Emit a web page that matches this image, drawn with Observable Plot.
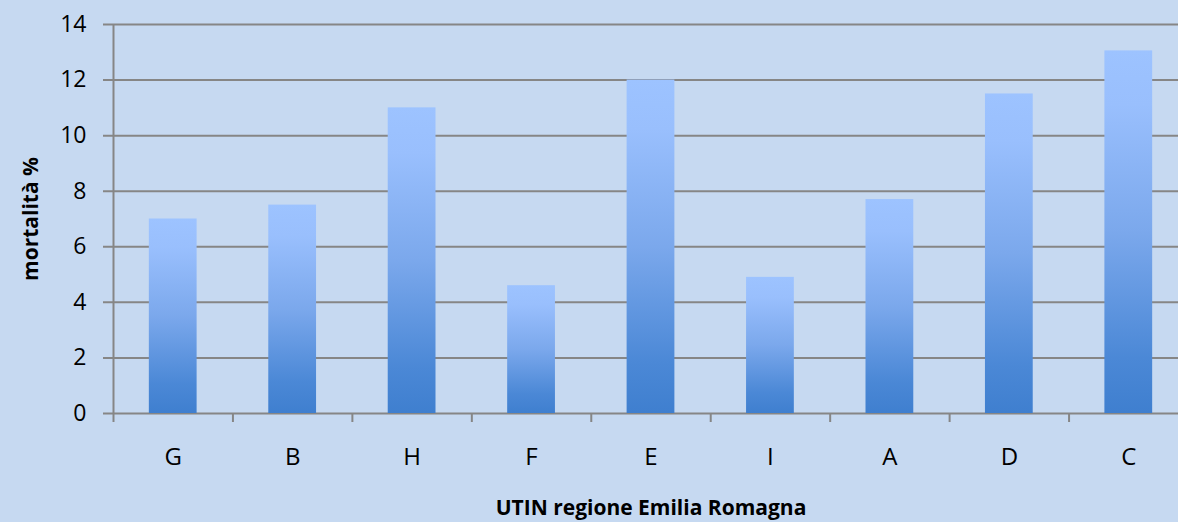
<!DOCTYPE html>
<html><head><meta charset="utf-8">
<script src="https://cdn.jsdelivr.net/npm/d3@7"></script>
<script src="https://cdn.jsdelivr.net/npm/@observablehq/plot@0.6"></script>
<style>html,body{margin:0;padding:0;background:#c6d9f1;overflow:hidden;width:1178px;height:522px}
svg{max-width:none !important;display:block}</style>
</head><body><div id="chart"></div>
<script>
const categories = ["G","B","H","F","E","I","A","D","C"];
const values = [7.0, 7.5, 11.0, 4.6, 12.0, 4.9, 7.7, 11.5, 13.05];
const yTicks = [0, 2, 4, 6, 8, 10, 12, 14];
const xTitle = "UTIN regione Emilia Romagna";
const yTitle = "mortalità %";

const data = categories.map((c, i) => ({unit: c, value: values[i]}));
const W = 1188, H = 522, ML = 113, MR = 0, MT = 24, MB = 109;
const step = (W - ML - MR) / categories.length;
const font = "'Open Sans', Lato, sans-serif";
const grid = "#868686";

const chart = Plot.plot({
  width: W, height: H,
  marginLeft: ML, marginRight: MR, marginTop: MT, marginBottom: MB,
  style: {background: "#c6d9f1", fontFamily: font, color: "#000", overflow: "visible", maxWidth: "none"},
  x: {domain: categories, paddingInner: 0.6, paddingOuter: 0.3, round: false},
  y: {domain: [0, 14]},
  marks: [
    Plot.ruleY(yTicks, {stroke: grid, strokeWidth: 2, insetLeft: -10}),
    Plot.barY(data, {x: "unit", y: "value", fill: "url(#barGrad)"}),
    Plot.ruleX([categories[0]], {x: d => d, y1: 0, y2: 14, dx: -step / 2, stroke: grid, strokeWidth: 2}),
    Plot.axisX({tickSize: 9, tickFormat: () => "", dx: -step / 2, stroke: grid, strokeWidth: 2, label: null}),
    Plot.axisY(yTicks, {tickSize: 0, tickPadding: 27, fontSize: 23, fill: "#000", label: null}),
    Plot.text(data, {x: "unit", text: "unit", frameAnchor: "bottom", lineAnchor: "middle", dy: 44, fontSize: 24, fill: "#000"}),
    Plot.text([xTitle], {frameAnchor: "bottom", lineAnchor: "middle", textAnchor: "middle", dy: 95, fontSize: 21, fontWeight: "bold", fill: "#000"}),
    Plot.text([yTitle], {frameAnchor: "left", lineAnchor: "middle", textAnchor: "middle", rotate: -90, dx: -82, fontSize: 21, fontWeight: "bold", fill: "#000"})
  ]
});
const svg = chart.tagName.toLowerCase() === "svg" ? chart : chart.querySelector("svg");
svg.insertAdjacentHTML("afterbegin",
  `<defs><linearGradient id="barGrad" x1="0" y1="0" x2="0" y2="1">
    <stop offset="0" stop-color="#9dc3ff"/>
    <stop offset="0.15" stop-color="#99bffd"/>
    <stop offset="0.5" stop-color="#7ba8ec"/>
    <stop offset="0.85" stop-color="#4b88d6"/>
    <stop offset="1" stop-color="#3f7fcf"/>
  </linearGradient></defs>`);
document.getElementById("chart").appendChild(chart);
</script>
</body></html>
